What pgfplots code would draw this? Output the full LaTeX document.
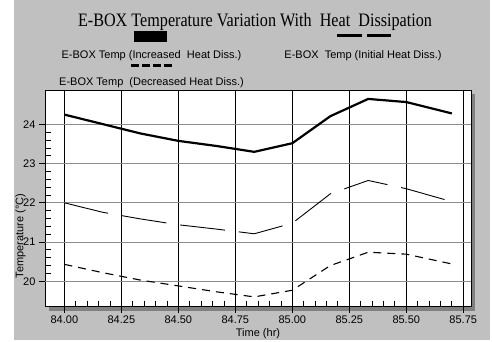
\documentclass[border=0pt]{standalone}
\usepackage{graphicx}
\usepackage{pgfplots}
\pgfplotsset{compat=1.18}
\usepackage{fontspec}
\setmainfont{Liberation Sans}
\newfontfamily\titlefont{Liberation Serif}
\definecolor{bggray}{HTML}{C0C0C0}
\definecolor{shadowgray}{HTML}{808080}
\definecolor{hgrid}{HTML}{8C8C8C}

\pgfplotstableread{
x y
84.000 24.25
84.167 24.01
84.333 23.77
84.500 23.58
84.667 23.45
84.833 23.30
85.000 23.52
85.167 24.21
85.333 24.65
85.500 24.57
85.700 24.28
}\increased

\pgfplotstableread{
x y
84.000 22.00
84.167 21.76
84.333 21.59
84.500 21.44
84.667 21.33
84.833 21.21
85.000 21.48
85.167 22.23
85.333 22.57
85.500 22.36
85.700 22.03
}\initial

\pgfplotstableread{
x y
84.000 20.43
84.167 20.22
84.333 20.03
84.500 19.88
84.667 19.73
84.833 19.60
85.000 19.77
85.167 20.40
85.333 20.74
85.500 20.69
85.700 20.44
}\decreased

\begin{document}
\begin{tikzpicture}[font=\fontsize{11}{13}\selectfont]
\useasboundingbox (0pt,0pt) rectangle (492pt,-342pt);
\fill[bggray] (14pt,0pt) rectangle (490pt,-340pt);
\fill[shadowgray] (49pt,-311pt) rectangle (475pt,-94pt);
\begin{axis}[at={(45pt,-306.7pt)}, anchor=south west, scale only axis,
  width=426pt, height=216.4pt,
  xmin=83.915, xmax=85.784, ymin=19.35, ymax=24.87,
  axis background/.style={fill=white},
  xtick={84,84.25,84.5,84.75,85,85.25,85.5,85.75},
  ytick={20,21,22,23,24},
  minor tick num=4,
  tick pos=left, tick align=outside,
  major tick length=6pt, minor tick length=-6pt,
  xmajorgrids, major x grid style={black, line width=0.8pt},
  ymajorgrids, major y grid style={hgrid, line width=0.9pt},
  extra y ticks={20,21}, extra y tick labels={},
  extra y tick style={grid=major, major grid style={black, line width=0.8pt}},
  axis line style={black, line width=1pt},
  tick style={black, line width=0.8pt},
  /pgf/number format/assume math mode=true,
  xticklabel style={/pgf/number format/.cd, fixed, fixed zerofill, precision=2},
  yticklabel style={/pgf/number format/.cd, fixed, precision=0},
  tick label style={font=\fontsize{11}{13}\selectfont},
  xlabel={Time (hr)},
  xlabel style={at={(axis description cs:0.5,0)}, anchor=base, yshift=-30pt},
  ylabel={Temperature (°C)},
  ylabel style={at={(axis description cs:-0.0505,0.327)}, anchor=base},
]
\addplot[black, line width=2.2pt, line join=round] table {\increased};
\addplot[black, line width=0.9pt, dash pattern=on 45pt off 14pt] table {\initial};
\addplot[black, line width=1.1pt, dash pattern=on 8pt off 6pt] table {\decreased};
\end{axis}
% title and legend
\begin{scope}[x=1pt,y=1pt]
\node[anchor=base, font=\titlefont\fontsize{19}{22}\selectfont] at (255,-26.7)
  {\scalebox{0.85}[1]{E-BOX Temperature Variation With\ \ Heat\ \ Dissipation}};
\fill[black] (134,-31) rectangle (167,-42);
\draw[line width=2.5pt] (337,-35.7) -- (362,-35.7);
\draw[line width=2.5pt] (367,-35.7) -- (391,-35.7);
\draw[line width=2.5pt, dash pattern=on 8pt off 3pt] (131,-65.7) -- (172,-65.7);
\node[anchor=base] at (151.5,-59) {E-BOX Temp (Increased\ \ Heat Diss.)};
\node[anchor=base] at (363,-59) {E-BOX\ \ Temp (Initial Heat Diss.)};
\node[anchor=base] at (151.5,-86) {E-BOX Temp\ \ (Decreased Heat Diss.)};
\end{scope}
\end{tikzpicture}
\end{document}
